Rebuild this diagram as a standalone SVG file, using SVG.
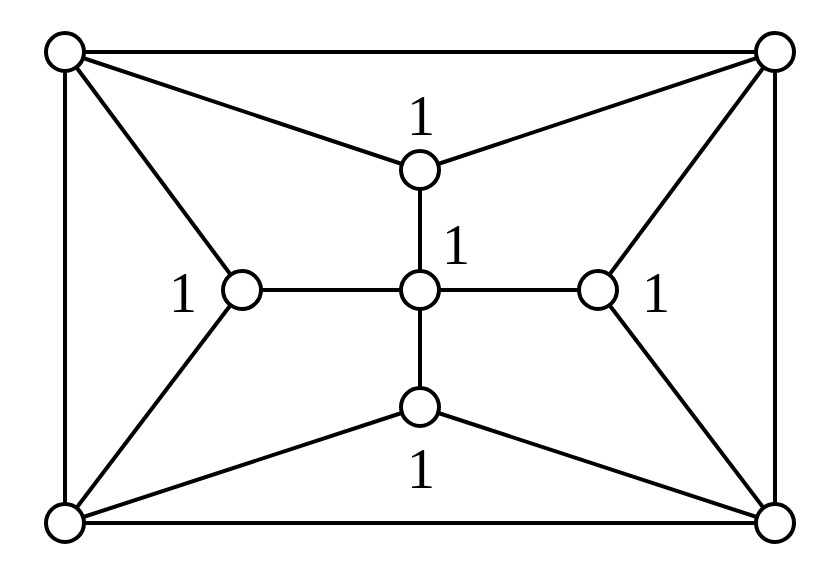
<svg xmlns="http://www.w3.org/2000/svg" width="835" height="567" viewBox="0 0 835 567">
<style>
.e{stroke:#000;stroke-width:4;fill:none}
.n{fill:#fff;stroke:#000;stroke-width:4}
.t{font-family:"Liberation Serif",serif;font-size:56px;text-anchor:middle;fill:#000}
</style>
<rect width="835" height="567" fill="#fff"/>
<g id="connectors" class="e">
<line x1="65" y1="52" x2="775" y2="52"/>
<line x1="65" y1="523" x2="775" y2="523"/>
<line x1="65" y1="52" x2="65" y2="523"/>
<line x1="775" y1="52" x2="775" y2="523"/>
<line x1="65" y1="52" x2="420" y2="170"/>
<line x1="775" y1="52" x2="420" y2="170"/>
<line x1="65" y1="52" x2="242" y2="290"/>
<line x1="65" y1="523" x2="242" y2="290"/>
<line x1="775" y1="52" x2="598" y2="290"/>
<line x1="775" y1="523" x2="598" y2="290"/>
<line x1="65" y1="523" x2="420" y2="407"/>
<line x1="775" y1="523" x2="420" y2="407"/>
<line x1="420" y1="170" x2="420" y2="407"/>
<line x1="242" y1="290" x2="598" y2="290"/>
</g>
<g id="tl"><circle class="n" cx="65" cy="52" r="19"/></g>
<g id="tr"><circle class="n" cx="775" cy="52" r="19"/></g>
<g id="bl"><circle class="n" cx="65" cy="523" r="19"/></g>
<g id="br"><circle class="n" cx="775" cy="523" r="19"/></g>
<g id="top"><circle class="n" cx="420" cy="170" r="19"/><text class="t" x="421" y="135">1</text></g>
<g id="center"><circle class="n" cx="420" cy="290" r="19"/><text class="t" x="456" y="264">1</text></g>
<g id="left"><circle class="n" cx="242" cy="290" r="19"/><text class="t" x="183" y="312">1</text></g>
<g id="right"><circle class="n" cx="598" cy="290" r="19"/><text class="t" x="656" y="312">1</text></g>
<g id="bottom"><circle class="n" cx="420" cy="407" r="19"/><text class="t" x="421" y="488">1</text></g>
</svg>
